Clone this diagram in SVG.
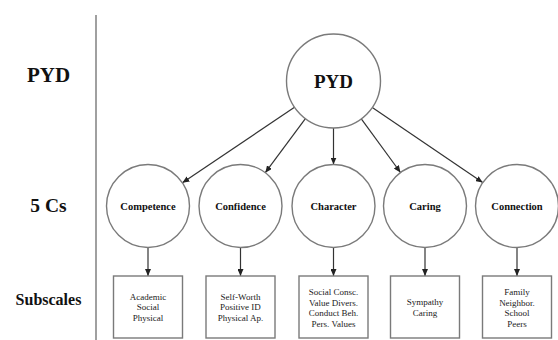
<svg xmlns="http://www.w3.org/2000/svg" width="558" height="340" viewBox="0 0 558 340">
<style>
.node{fill:#fff;stroke:#7a7a7a;stroke-width:1.4}
.box{fill:#fff;stroke:#7a7a7a;stroke-width:1.4}
.conn line{stroke:#333;stroke-width:1.2;marker-end:url(#ah)}
.lbl{font-weight:bold;fill:#111;text-anchor:middle}
.c{font-size:10.5px}
.sub{font-size:9px;fill:#222;text-anchor:middle}
</style>
<defs>
<marker id="ah" markerUnits="userSpaceOnUse" markerWidth="7" markerHeight="6" refX="7" refY="3" orient="auto">
<path d="M0,0 L7,3 L0,6 z" fill="#222"/>
</marker>
</defs>
<rect width="558" height="340" fill="#fff"/>
<line x1="96" y1="15" x2="96" y2="340" stroke="#a0a0a0" stroke-width="2"/>
<g font-family="'Liberation Serif', 'DejaVu Serif', serif">
<g id="row-labels">
<text class="lbl" x="48.5" y="82" font-size="21">PYD</text>
<text class="lbl" x="48.5" y="212" font-size="19.5">5 Cs</text>
<text class="lbl" x="48.5" y="305" font-size="16">Subscales</text>
</g>
<g class="conn" id="connectors">
<line x1="294.5" y1="107.3" x2="182.4" y2="182.8"/>
<line x1="305.4" y1="118.7" x2="265.3" y2="172.7"/>
<line x1="333.5" y1="128" x2="333.5" y2="164.5"/>
<line x1="361.3" y1="118.9" x2="400.5" y2="172.5"/>
<line x1="372.3" y1="107.5" x2="482.7" y2="182.6"/>
<line x1="148" y1="247.5" x2="148" y2="276"/>
<line x1="240.5" y1="247.5" x2="240.5" y2="276"/>
<line x1="333.5" y1="247.5" x2="333.5" y2="276"/>
<line x1="425" y1="247.5" x2="425" y2="276"/>
<line x1="517" y1="247.5" x2="517" y2="276"/>
</g>
<g id="pyd">
<circle class="node" cx="333.5" cy="81" r="47"/>
<text class="lbl" x="333.5" y="88" font-size="19">PYD</text>
</g>
<g id="competence">
<circle class="node" cx="148" cy="206" r="41.5"/>
<text class="lbl c" x="148" y="210">Competence</text>
</g>
<g id="confidence">
<circle class="node" cx="240.5" cy="206" r="41.5"/>
<text class="lbl c" x="240.5" y="210">Confidence</text>
</g>
<g id="character">
<circle class="node" cx="333.5" cy="206" r="41.5"/>
<text class="lbl c" x="333.5" y="210">Character</text>
</g>
<g id="caring">
<circle class="node" cx="425" cy="206" r="41.5"/>
<text class="lbl c" x="425" y="210">Caring</text>
</g>
<g id="connection">
<circle class="node" cx="517" cy="206" r="41.5"/>
<text class="lbl c" x="517" y="210">Connection</text>
</g>
<g id="competence-sub">
<rect class="box" x="113.5" y="276" width="69" height="62"/>
<text class="sub" x="148" y="299.5">Academic</text>
<text class="sub" x="148" y="310">Social</text>
<text class="sub" x="148" y="320.5">Physical</text>
</g>
<g id="confidence-sub">
<rect class="box" x="206" y="276" width="69" height="62"/>
<text class="sub" x="240.5" y="299.5">Self-Worth</text>
<text class="sub" x="240.5" y="310">Positive ID</text>
<text class="sub" x="240.5" y="320.5">Physical Ap.</text>
</g>
<g id="character-sub">
<rect class="box" x="299" y="276" width="69" height="62"/>
<text class="sub" x="333.5" y="295">Social Consc.</text>
<text class="sub" x="333.5" y="305.5">Value Divers.</text>
<text class="sub" x="333.5" y="316">Conduct Beh.</text>
<text class="sub" x="333.5" y="326.5">Pers. Values</text>
</g>
<g id="caring-sub">
<rect class="box" x="390.5" y="276" width="69" height="62"/>
<text class="sub" x="425" y="305">Sympathy</text>
<text class="sub" x="425" y="315.5">Caring</text>
</g>
<g id="connection-sub">
<rect class="box" x="482.5" y="276" width="69" height="62"/>
<text class="sub" x="517" y="295">Family</text>
<text class="sub" x="517" y="305.5">Neighbor.</text>
<text class="sub" x="517" y="316">School</text>
<text class="sub" x="517" y="326.5">Peers</text>
</g>
</g>
</svg>
